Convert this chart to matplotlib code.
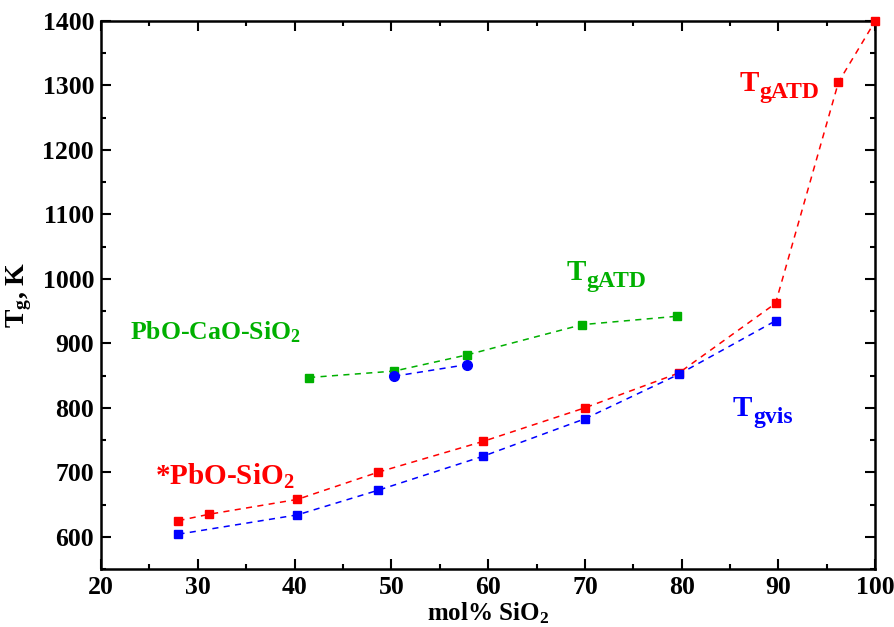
import matplotlib
matplotlib.use("Agg")
import matplotlib.pyplot as plt
from matplotlib.ticker import MultipleLocator, FuncFormatter

plt.rcParams['font.family'] = ['Liberation Serif', 'DejaVu Serif']
plt.rcParams['font.weight'] = 'bold'
plt.rcParams['mathtext.fontset'] = 'custom'
plt.rcParams['mathtext.rm'] = 'Liberation Serif:bold'
plt.rcParams['mathtext.it'] = 'Liberation Serif:bold'
plt.rcParams['mathtext.bf'] = 'Liberation Serif:bold'

# PbO-SiO2, Tg from ATD (red)
red_x = [28, 31.2, 40.3, 48.6, 59.5, 70.0, 79.7, 89.7, 96.2, 100]
red_y = [625, 635, 658, 700, 748, 800, 854, 962, 1305, 1400]
# PbO-SiO2, Tg from viscosity (blue squares)
blue_x = [28, 40.3, 48.6, 59.5, 70.0, 79.7, 89.7]
blue_y = [604, 634, 672, 725, 783, 852, 935]
# PbO-CaO-SiO2, Tg from viscosity (blue circles)
bluec_x = [50.3, 57.8]
bluec_y = [849, 867]
# PbO-CaO-SiO2, Tg from ATD (green)
green_x = [41.5, 50.3, 57.8, 69.7, 79.5]
green_y = [847, 857, 882, 929, 942]

RED = '#ff0000'
BLUE = '#0000ff'
GREEN = '#00b000'

fig = plt.figure(figsize=(8.94, 6.27), dpi=100)
ax = fig.add_axes([0.113, 0.0925, 0.866, 0.874])

dash = (0, (4, 3.5))
ax.plot(green_x, green_y, color=GREEN, ls=dash, lw=1.1, marker='s', ms=6, zorder=2)
ax.plot(red_x, red_y, color=RED, ls=dash, lw=1.1, marker='s', ms=6, zorder=3, clip_on=False)
ax.plot(blue_x, blue_y, color=BLUE, ls=dash, lw=1.1, marker='s', ms=6, zorder=4)
ax.plot(bluec_x, bluec_y, color=BLUE, ls=dash, lw=1.1, marker='o', ms=7, zorder=4)

ax.set_xlim(20, 100)
ax.set_ylim(550, 1400)
ax.xaxis.set_major_locator(MultipleLocator(10))
ax.xaxis.set_minor_locator(MultipleLocator(5))
ax.yaxis.set_major_locator(MultipleLocator(100))
ax.yaxis.set_minor_locator(MultipleLocator(50))
ax.yaxis.set_major_formatter(FuncFormatter(lambda v, p: '' if v < 600 else f'{int(v)}'))
ax.tick_params(which='both', direction='in', top=True, right=True, width=1.5)
ax.tick_params(which='major', length=7, labelsize=18.5, pad=5)
ax.tick_params(which='minor', length=3.5)
for s in ax.spines.values():
    s.set_linewidth(1.8)

ax.set_xlabel('mol% SiO$_2$', fontsize=18, fontweight='bold', labelpad=1)
ax.set_ylabel('T$_g$, K', fontsize=20, fontweight='bold', labelpad=6)


def tlabel(x, y, sub, color):
    t = ax.text(x, y, 'T', color=color, fontsize=21, va='baseline', ha='left')
    ax.annotate(sub, xy=(1, 0), xycoords=t, xytext=(0.5, -1), textcoords='offset points',
                color=color, fontsize=17, va='baseline', ha='left')


tlabel(68.1, 999, 'gATD', GREEN)
tlabel(86.0, 1292, 'gATD', RED)
tlabel(85.3, 788, 'gvis', BLUE)

ax.text(23.0, 917, 'PbO-CaO-SiO$_2$', color=GREEN, fontsize=18.5, va='center', ha='left')
ax.text(25.6, 693, '*PbO-SiO$_2$', color=RED, fontsize=21, va='center', ha='left')

fig.savefig('out.png', dpi=100)
